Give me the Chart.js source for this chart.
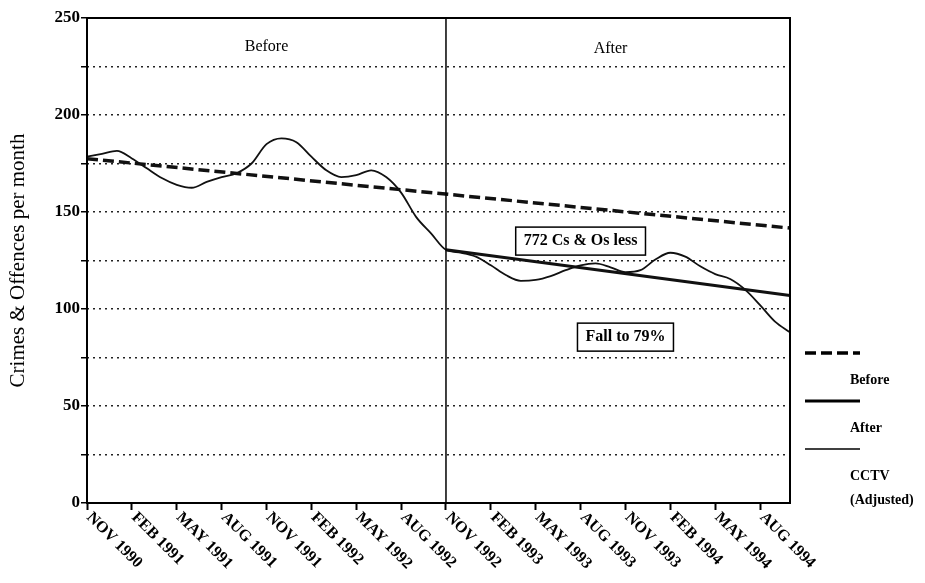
<!DOCTYPE html>
<html><head><meta charset="utf-8">
<script src="https://cdn.jsdelivr.net/npm/chart.js@4/dist/chart.umd.min.js"></script>
<style>html,body{margin:0;padding:0;background:#fff}#wrap{width:925px;height:583px}</style>
</head><body><div id="wrap"><canvas id="c" width="925" height="583"></canvas></div>
<script>
const months = [
 'NOV 1990','DEC 1990',
 'JAN 1991','FEB 1991','MAR 1991','APR 1991','MAY 1991','JUN 1991','JUL 1991','AUG 1991','SEP 1991','OCT 1991','NOV 1991','DEC 1991',
 'JAN 1992','FEB 1992','MAR 1992','APR 1992','MAY 1992','JUN 1992','JUL 1992','AUG 1992','SEP 1992','OCT 1992','NOV 1992','DEC 1992',
 'JAN 1993','FEB 1993','MAR 1993','APR 1993','MAY 1993','JUN 1993','JUL 1993','AUG 1993','SEP 1993','OCT 1993','NOV 1993','DEC 1993',
 'JAN 1994','FEB 1994','MAR 1994','APR 1994','MAY 1994','JUN 1994','JUL 1994','AUG 1994','SEP 1994','OCT 1994'
];
const cctvAdjusted = [178.5,180,181.5,177.6,172.5,167.5,164,162.5,165.5,168,170,175,185,188,186,178.5,171.5,168,169,171.5,168,160,147.5,139,
 130.5,129,127,122.5,117.5,114.5,115,117,120,122.5,123.5,121.5,119,120,125.5,129,127,122,118,115.5,110,102,93.5,88];
const beforeTrendPoints = [{x:'NOV 1990', y:177.5},{x:'OCT 1994', y:141.7}];
const afterTrendPoints = [{x:'NOV 1992', y:130.5},{x:'OCT 1994', y:107}];
const dividerMonth = 'NOV 1992';
const yTicks = [0,50,100,150,200,250];
const annotations = [
 {text:'Before', x:'NOV 1991', y:235, box:false},
 {text:'After', x:'OCT 1993', y:234, box:false},
 {text:'772 Cs & Os less', x:'AUG 1993', y:135, box:true},
 {text:'Fall to 79%', x:'NOV 1993', y:85.5, box:true}
];
const legendItems = [
 {label:['Before'], width:3.5, dash:[11,5]},
 {label:['After'], width:3, dash:[]},
 {label:['CCTV','(Adjusted)'], width:1.5, dash:[]}
];
const SERIF = '"Liberation Serif","DejaVu Serif",serif';

const drawPlugin = {
 id:'extras',
 afterDatasetsDraw(chart){
  const {ctx, chartArea:a, scales:{x,y}} = chart;
  ctx.save();
  ctx.strokeStyle='#000'; ctx.lineWidth=2;
  ctx.strokeRect(a.left, a.top, a.right-a.left, a.bottom-a.top);
  const dx = x.getPixelForValue(months.indexOf(dividerMonth));
  ctx.lineWidth=1.5;
  ctx.beginPath(); ctx.moveTo(dx,a.top); ctx.lineTo(dx,a.bottom); ctx.stroke();
  ctx.fillStyle='#000'; ctx.textAlign='center'; ctx.textBaseline='middle';
  annotations.forEach(an=>{
   const px = x.getPixelForValue(months.indexOf(an.x));
   const py = y.getPixelForValue(an.y);
   ctx.font = (an.box?'bold 16px ':'16px ')+SERIF;
   ctx.fillText(an.text, px, py);
   if(an.box){
    const w = ctx.measureText(an.text).width + 16;
    ctx.lineWidth=1.5;
    ctx.strokeRect(px-w/2, py-14, w, 28);
   }
  });
  ctx.restore();
 },
 afterDraw(chart){
  const {ctx, chartArea:a, scales:{x}} = chart;
  ctx.save();
  ctx.fillStyle='#000';
  ctx.font='bold 16px '+SERIF;
  ctx.textAlign='left'; ctx.textBaseline='middle';
  months.forEach((m,i)=>{
   if(i%3!==0) return;
   const px = x.getPixelForValue(i);
   ctx.save();
   ctx.translate(px+2, a.bottom+12);
   ctx.rotate(Math.PI/4);
   ctx.fillText(m, 0, 0);
   ctx.restore();
  });
  let ly = a.top + 335;
  const lx1 = a.right + 15, lx2 = a.right + 70;
  ctx.font='bold 14px '+SERIF;
  legendItems.forEach(it=>{
   ctx.strokeStyle='#000'; ctx.lineWidth=it.width; ctx.setLineDash(it.dash);
   ctx.beginPath(); ctx.moveTo(lx1,ly); ctx.lineTo(lx2,ly); ctx.stroke();
   ctx.setLineDash([]);
   let ty = ly + 27;
   it.label.forEach(t=>{ ctx.fillText(t, a.right+60, ty); ty += 24; });
   ly += 48;
  });
  ctx.restore();
 }
};

new Chart(document.getElementById('c'), {
 type:'line',
 data:{
  labels: months,
  datasets:[
   {label:'Before', data: beforeTrendPoints, borderColor:'#111', borderWidth:3.5, borderDash:[11,5], pointRadius:0, tension:0},
   {label:'After', data: afterTrendPoints, borderColor:'#111', borderWidth:3, pointRadius:0, tension:0},
   {label:'CCTV (Adjusted)', data: cctvAdjusted, borderColor:'#111', borderWidth:1.8, pointRadius:0, tension:0.4, cubicInterpolationMode:'monotone'}
  ]
 },
 options:{
  responsive:false, animation:false,
  layout:{padding:{top:18, right:135, left:0, bottom:0}},
  plugins:{legend:{display:false}, tooltip:{enabled:false}},
  scales:{
   x:{
    type:'category',
    offset:false,
    grid:{display:true, drawOnChartArea:false, drawTicks:true, tickLength:7, tickWidth:2,
      tickColor: c => (c.index%3===0 ? '#000' : 'rgba(0,0,0,0)')},
    border:{display:false},
    ticks:{display:false, autoSkip:false},
    afterFit(s){ s.height = 80; }
   },
   y:{
    min:0, max:250,
    grid:{color: c => ((c.tick.value===0||c.tick.value===250) ? 'rgba(0,0,0,0)' : '#222'), lineWidth:1.5,
      tickLength:6, tickWidth:1.5, tickColor:'#000'},
    border:{display:false, dash:[2,4]},
    ticks:{stepSize:25, padding:1, color:'#000', font:{family:SERIF, size:17, weight:'bold'},
      callback: v => (yTicks.includes(v) ? String(v) : '')},
    title:{display:true, text:'Crimes & Offences per month', color:'#000', font:{family:SERIF, size:21}, padding:{top:6, bottom:0}},
    afterFit(s){ s.width = 87; }
   }
  }
 },
 plugins:[drawPlugin]
});
</script>
</body></html>
